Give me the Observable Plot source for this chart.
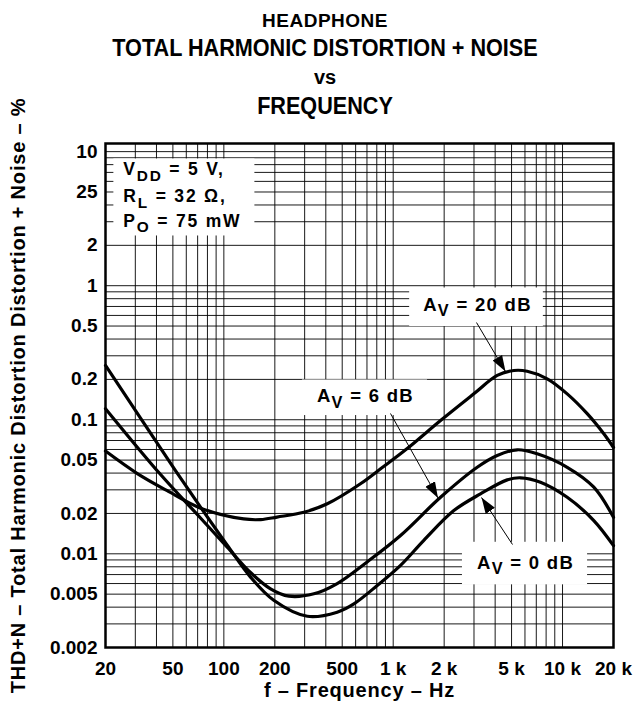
<!DOCTYPE html>
<html><head><meta charset="utf-8">
<script src="https://cdn.jsdelivr.net/npm/d3@7"></script>
<script src="https://cdn.jsdelivr.net/npm/@observablehq/plot@0.6"></script>
<style>
body{margin:0;background:#fff;}
#wrap{width:640px;height:708px;position:relative;font-family:"Liberation Sans",Arial,Helvetica,sans-serif;font-weight:bold;color:#000;}
#title{height:115px;position:relative;}
.t{position:absolute;left:5px;width:640px;text-align:center;white-space:nowrap;line-height:1;}
.c{transform:scaleX(0.94);transform-origin:320px 0;}
</style></head><body>
<div id="wrap">
<div id="title">
 <div class="t" style="top:11px;font-size:19px;letter-spacing:0.5px;">HEADPHONE</div>
 <div class="t c" style="top:37px;font-size:23px;">TOTAL HARMONIC DISTORTION + NOISE</div>
 <div class="t" style="top:67px;font-size:20px;">vs</div>
 <div class="t c" style="top:95px;font-size:23px;">FREQUENCY</div>
</div>
<div id="chart"></div>
</div>
<script>
const xTicks = [20, 50, 100, 200, 500, 1000, 2000, 5000, 10000, 20000];
const xTickLabels = ["20", "50", "100", "200", "500", "1 k", "2 k", "5 k", "10 k", "20 k"];
const yTicks = [10, 5, 2, 1, 0.5, 0.2, 0.1, 0.05, 0.02, 0.01, 0.005, 0.002];
const yTickLabels = ["10", "25", "2", "1", "0.5", "0.2", "0.1", "0.05", "0.02", "0.01", "0.005", "0.002"];
const xTitle = "f \u2013 Frequency \u2013 Hz";
const yTitle = "THD+N \u2013 Total Harmonic Distortion Distortion + Noise \u2013 %";

// AV = 0 dB
const freq0dB = [20, 32.2, 51.8, 72.8, 104.7, 143.7, 197, 311, 467, 586, 805, 1105, 1517, 2281, 3278, 4712, 5647, 7410, 10656, 15302, 20000];
const thd0dB  = [0.254, 0.103, 0.0418, 0.0223, 0.0116, 0.0067, 0.0045, 0.00342, 0.00367, 0.00423, 0.0058, 0.0082, 0.0126, 0.021, 0.028, 0.0356, 0.0369, 0.0342, 0.0264, 0.0177, 0.0115];
// AV = 6 dB
const freq6dB = [20, 42.3, 72.8, 104.7, 143.7, 188.6, 242, 340, 467, 702, 1105, 1904, 3134, 4115, 5400, 7087, 10656, 15302, 20000];
const thd6dB  = [0.121, 0.039, 0.0185, 0.0112, 0.00725, 0.00548, 0.00483, 0.00503, 0.0060, 0.0087, 0.0137, 0.0264, 0.0442, 0.0541, 0.0597, 0.0557, 0.0442, 0.0314, 0.0187];
// AV = 20 dB
const freq20dB = [20, 31, 46, 73, 131, 165, 206, 297, 408, 641, 862, 1210, 1904, 2993, 4115, 5157, 6186, 8121, 10656, 13985, 17530, 20000];
const thd20dB  = [0.0584, 0.0395, 0.0297, 0.0219, 0.0182, 0.0180, 0.0188, 0.0204, 0.0236, 0.0333, 0.044, 0.061, 0.0987, 0.156, 0.214, 0.233, 0.230, 0.202, 0.156, 0.111, 0.0786, 0.0621];

const seriesNames = ["AV = 0 dB", "AV = 6 dB", "AV = 20 dB"];
const seriesFreq = [freq0dB, freq6dB, freq20dB];
const seriesThd = [thd0dB, thd6dB, thd20dB];

// annotation texts (frequency Hz, THD+N %), "_{..}" = subscript
const condText = ["V_{DD} = 5 V,", "R_{L} = 32 \u03A9,", "P_{O} = 75 mW"];
const condF = [25.5, 25.5, 25.5];
const condV = [6.64, 4.19, 2.73];
const gainText = ["A_{V} = 20 dB", "A_{V} = 6 dB", "A_{V} = 0 dB"];
const gainF = [3147, 686, 6045];
const gainV = [0.653, 0.1345, 0.00773];
// arrows: tail -> tip
const arrowF1 = [3105, 964, 5065];
const arrowV1 = [0.531, 0.1113, 0.01173];
const arrowF2 = [4605, 1839, 3323];
const arrowV2 = [0.229, 0.0261, 0.0263];

const rows = seriesNames.flatMap((name, k) => seriesFreq[k].map((f, i) => ({series: name, f, v: seriesThd[k][i]})));
const conds = condText.map((t, i) => ({t, f: condF[i], v: condV[i]}));
const gains = gainText.map((t, i) => ({t, f: gainF[i], v: gainV[i]}));
const arrows = arrowF1.map((f, i) => ({f1: f, v1: arrowV1[i], f2: arrowF2[i], v2: arrowV2[i]}));

const font = '"Liberation Sans", Arial, Helvetica, sans-serif';
const chart = Plot.plot({
  width: 640, height: 593,
  marginTop: 28, marginBottom: 61, marginLeft: 105, marginRight: 27,
  x: {type: "log", domain: [20, 20000], axis: null},
  y: {type: "log", domain: [0.002, 11.5], axis: null},
  style: {fontFamily: font, fontWeight: "bold", fontSize: "18px", color: "#000", background: "#fff", overflow: "visible"},
  marks: [
    Plot.gridX({ticks: 30, stroke: "#000", strokeOpacity: 0.9, strokeWidth: 1}),
    Plot.gridY({ticks: 40, stroke: "#000", strokeOpacity: 0.9, strokeWidth: 1}),
    // tick labels
    Plot.text(xTicks, {x: d => d, text: (d, i) => xTickLabels[i], frameAnchor: "bottom", textAnchor: "middle", lineAnchor: "top", dy: 14, fontSize: 19, className: "xticks"}),
    Plot.text(yTicks, {y: d => d, text: (d, i) => yTickLabels[i], frameAnchor: "left", textAnchor: "end", lineAnchor: "middle", dx: -8, fontSize: 19, className: "yticks"}),
    // axis titles
    Plot.text([xTitle], {frameAnchor: "bottom", textAnchor: "middle", lineAnchor: "middle", dy: 43, fontSize: 20, className: "xtitle"}),
    Plot.text([yTitle], {frameAnchor: "left", textAnchor: "middle", lineAnchor: "middle", rotate: -90, dx: -87, fontSize: 20, className: "ytitle"}),
    Plot.line(rows, {x: "f", y: "v", z: "series", stroke: "#000", strokeWidth: 3.2, curve: "catmull-rom"}),
    Plot.frame({stroke: "#000", strokeWidth: 2.5}),
    Plot.text(conds, {x: "f", y: "v", text: "t", textAnchor: "start", lineAnchor: "bottom", fontSize: 17.5, fill: "#000", className: "note note-cond"}),
    ...gains.map((g, i) => Plot.text([g], {x: "f", y: "v", text: "t", textAnchor: "middle", lineAnchor: "bottom", fontSize: 18.5, fill: "#000", className: "note note-gain" + i})),
    Plot.link(arrows, {x1: "f1", y1: "v1", x2: "f2", y2: "v2", stroke: "#000", strokeWidth: 1, className: "arrows"})
  ]
});
document.getElementById("chart").append(chart);

const svg = d3.select(chart);
// wider letter spacing like the original lettering
svg.selectAll("g.xtitle, g.ytitle").style("letter-spacing", "0.8px");
svg.selectAll("g.note-cond").style("letter-spacing", "1.8px");
svg.selectAll("g.note-gain0, g.note-gain1, g.note-gain2").style("letter-spacing", "1.3px");

const noteNames = ["note-cond", "note-gain0", "note-gain1", "note-gain2"];
const noteGs = noteNames.map(n => chart.querySelector("g." + n));

// subscripts
try {
  noteGs.forEach(g => {
    if (!g) return;
    g.querySelectorAll("text").forEach(node => {
      const el = d3.select(node);
      const s = node.textContent;
      const fs = parseFloat(getComputedStyle(node).fontSize) || 18;
      const shift = fs * 0.3;
      el.text(null);
      let down = false;
      s.split(/(_\{[^}]*\})/).filter(Boolean).forEach(p => {
        const t = el.append("tspan");
        if (p.startsWith("_{")) { t.text(p.slice(2, -1)).attr("dy", shift).attr("font-size", fs * 0.88); down = true; }
        else { t.text(p); if (down) { t.attr("dy", -shift); down = false; } }
      });
    });
  });
} catch (e) { console.error(e); }

// white boxes behind annotations
try {
  const pads = [[10, 13, 1, 0], [14, 11, 6, 7], [15, 13, 6, 4], [15, 13, 10, 7]];
  const svgRect = chart.getBoundingClientRect();
  const boxG = document.createElementNS("http://www.w3.org/2000/svg", "g");
  chart.insertBefore(boxG, noteGs[0]);
  noteGs.forEach((g, k) => {
    if (!g) return;
    const [pl, pr, pt, pb] = pads[k];
    let x0 = Infinity, y0 = Infinity, x1 = -Infinity, y1 = -Infinity;
    g.querySelectorAll("text").forEach(t => {
      const r = t.getBoundingClientRect();
      x0 = Math.min(x0, r.left); y0 = Math.min(y0, r.top); x1 = Math.max(x1, r.right); y1 = Math.max(y1, r.bottom);
    });
    if (!isFinite(x0)) return;
    d3.select(boxG).append("rect")
      .attr("x", x0 - svgRect.left - pl).attr("y", y0 - svgRect.top - pt)
      .attr("width", x1 - x0 + pl + pr).attr("height", y1 - y0 + pt + pb)
      .attr("fill", "#fff");
  });
} catch (e) { console.error(e); }

// filled arrowheads
try {
  const defs = svg.insert("defs", ":first-child");
  defs.append("marker").attr("id", "ah").attr("markerUnits", "userSpaceOnUse")
    .attr("markerWidth", 18).attr("markerHeight", 14).attr("refX", 16).attr("refY", 7).attr("orient", "auto")
    .append("path").attr("d", "M0,1.5L16,7L0,12.5Z").attr("fill", "#000");
  const arrowG = chart.querySelector("g.arrows") || chart.querySelector('g[aria-label="link"]');
  d3.select(arrowG).selectAll("path").attr("marker-end", "url(#ah)");
} catch (e) { console.error(e); }
</script>
</body></html>
